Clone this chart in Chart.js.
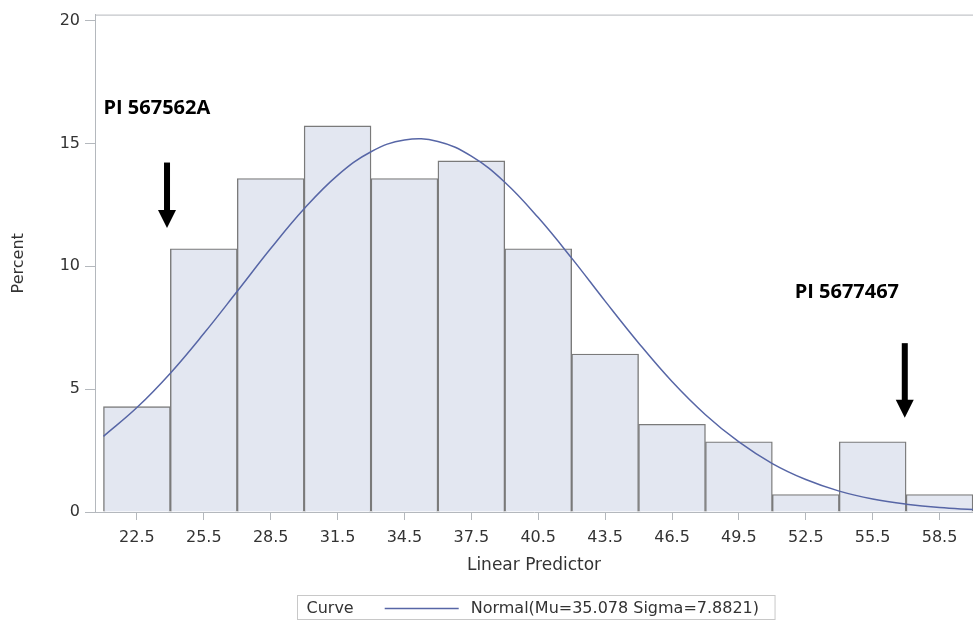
<!DOCTYPE html>
<html>
<head>
<meta charset="utf-8">
<script src="https://cdn.jsdelivr.net/npm/chart.js@4/dist/chart.umd.min.js"></script>
<style>
    html, body { margin: 0; padding: 0; background: #fff; }
    #wrap { width: 973px; height: 621px; }
</style>
</head>
<body>
<div id="wrap"><canvas id="histChart" width="973" height="621"></canvas></div>
<script>
// Histogram bins (midpoints) and percent in each bin
const binMidpoints = [22.5, 25.5, 28.5, 31.5, 34.5, 37.5, 40.5, 43.5, 46.5, 49.5, 52.5, 55.5, 58.5];
const binPercents = [4.29, 10.71, 13.57, 15.71, 13.57, 14.29, 10.71, 6.43, 3.57, 2.86, 0.71, 2.86, 0.71];

// Normal curve
const curveX = [21, 22.5, 24, 25.5, 27, 28.5, 30, 31.5, 33, 34.5, 36, 37.5, 39, 40.5, 42, 43.5, 45, 46.5, 48, 49.5, 51, 52.5, 54, 55.5, 57, 58.5, 60];
const curveY = [3.08, 4.25, 5.65, 7.26, 8.98, 10.72, 12.34, 13.70, 14.66, 15.14, 15.08, 14.48, 13.42, 11.98, 10.33, 8.58, 6.88, 5.31, 3.96, 2.85, 1.97, 1.32, 0.85, 0.53, 0.32, 0.18, 0.10];

// Tick labels
const xTickValues = [22.5, 25.5, 28.5, 31.5, 34.5, 37.5, 40.5, 43.5, 46.5, 49.5, 52.5, 55.5, 58.5];
const yTickValues = [0, 5, 10, 15, 20];

// Legend text
const legendTitle = 'Curve';
const curveLabel = 'Normal(Mu=35.078 Sigma=7.8821)';

// Annotations (data coordinates)
const noteTexts = ['PI 567562A', 'PI 5677467'];
const noteX = [21.0, 52.0];
const noteY = [16.44, 8.94];
const arrowX = [23.85, 56.94];
const arrowTop = [14.22, 6.87];
const arrowTip = [11.56, 3.84];

const AXIS_COLOR = '#b4b8bd';
const TEXT_COLOR = '#333333';
const FONT = '"DejaVu Sans", sans-serif';

const decorPlugin = {
    id: 'decor',
    afterDraw(chart) {
        const { ctx, chartArea, scales } = chart;
        const xs = scales.x, ys = scales.y;
        ctx.save();

        // top wall line
        ctx.strokeStyle = AXIS_COLOR;
        ctx.lineWidth = 1;
        ctx.beginPath();
        ctx.moveTo(chartArea.left, chartArea.top + 0.5);
        ctx.lineTo(chartArea.right, chartArea.top + 0.5);
        ctx.stroke();

        // annotation texts
        ctx.fillStyle = '#000';
        ctx.font = 'bold 20px "Open Sans", sans-serif';
        ctx.textBaseline = 'middle';
        ctx.textAlign = 'left';
        noteTexts.forEach((t, i) => {
            ctx.fillText(t, xs.getPixelForValue(noteX[i]), ys.getPixelForValue(noteY[i]));
        });

        // arrows
        arrowX.forEach((v, i) => {
            const px = xs.getPixelForValue(v);
            const top = ys.getPixelForValue(arrowTop[i]);
            const tip = ys.getPixelForValue(arrowTip[i]);
            const headH = 18, headW = 9;
            ctx.fillRect(px - 3, top, 6, tip - top - headH + 1);
            ctx.beginPath();
            ctx.moveTo(px - headW, tip - headH);
            ctx.lineTo(px + headW, tip - headH);
            ctx.lineTo(px, tip);
            ctx.closePath();
            ctx.fill();
        });

        // legend box at the bottom
        ctx.font = '16px ' + FONT;
        const wTitle = ctx.measureText(legendTitle).width;
        const wLabel = ctx.measureText(curveLabel).width;
        const padL = 9, gap1 = 31, lineW = 74, gap2 = 12, padR = 16;
        const boxW = padL + wTitle + gap1 + lineW + gap2 + wLabel + padR;
        const boxH = 24;
        const cx = (chartArea.left + chartArea.right) / 2 + 2;
        const bx = Math.round(cx - boxW / 2) + 0.5;
        const by = 595.5;
        ctx.strokeStyle = '#c8c8c8';
        ctx.strokeRect(bx, by, boxW, boxH);
        ctx.fillStyle = TEXT_COLOR;
        const ty = by + boxH / 2 + 1;
        ctx.fillText(legendTitle, bx + padL, ty);
        const lx = bx + padL + wTitle + gap1;
        ctx.strokeStyle = '#5766a6';
        ctx.lineWidth = 1.5;
        ctx.beginPath();
        ctx.moveTo(lx, ty);
        ctx.lineTo(lx + lineW, ty);
        ctx.stroke();
        ctx.fillText(curveLabel, lx + lineW + gap2, ty);

        ctx.restore();
    }
};

new Chart(document.getElementById('histChart'), {
    type: 'bar',
    data: {
        datasets: [
            {
                type: 'line',
                label: curveLabel,
                data: curveX.map((x, i) => ({ x: x, y: curveY[i] })),
                borderColor: '#5766a6',
                borderWidth: 1.5,
                pointRadius: 0,
                tension: 0.4,
                fill: false,
                order: 0
            },
            {
                type: 'bar',
                label: 'Percent',
                data: binMidpoints.map((x, i) => ({ x: x, y: binPercents[i] })),
                backgroundColor: '#e3e7f1',
                borderColor: '#7a7a7a',
                borderWidth: 1.4,
                barPercentage: 1,
                categoryPercentage: 1,
                order: 1
            }
        ]
    },
    options: {
        responsive: false,
        animation: false,
        devicePixelRatio: 1,
        layout: { padding: { top: 11, right: 0, bottom: 45, left: 0 } },
        plugins: {
            legend: { display: false },
            tooltip: { enabled: false }
        },
        scales: {
            x: {
                type: 'linear',
                min: 20.62,
                max: 60,
                offset: false,
                afterBuildTicks: (scale) => { scale.ticks = xTickValues.map(v => ({ value: v })); },
                afterFit: (scale) => { scale.height = 64; },
                grid: { offset: false, drawOnChartArea: false, drawTicks: true, tickLength: 8, color: AXIS_COLOR },
                border: { color: AXIS_COLOR, width: 1 },
                ticks: {
                    autoSkip: false,
                    maxRotation: 0,
                    padding: 8,
                    color: TEXT_COLOR,
                    font: { family: FONT, size: 16 },
                    callback: (v) => Number(v).toFixed(1)
                },
                title: {
                    display: true,
                    text: 'Linear Predictor',
                    color: TEXT_COLOR,
                    font: { family: FONT, size: 17 },
                    padding: { top: 0, bottom: 0 }
                }
            },
            y: {
                type: 'linear',
                min: 0,
                max: 20.24,
                afterBuildTicks: (scale) => { scale.ticks = yTickValues.map(v => ({ value: v })); },
                afterFit: (scale) => { scale.width = 95; },
                grid: { drawOnChartArea: false, drawTicks: true, tickLength: 10, color: AXIS_COLOR },
                border: { color: AXIS_COLOR, width: 1 },
                ticks: {
                    padding: 5,
                    color: TEXT_COLOR,
                    font: { family: FONT, size: 16 }
                },
                title: {
                    display: true,
                    text: 'Percent',
                    color: TEXT_COLOR,
                    font: { family: FONT, size: 16 },
                    padding: { top: 9, bottom: 0 }
                }
            }
        }
    },
    plugins: [decorPlugin]
});
</script>
</body>
</html>
